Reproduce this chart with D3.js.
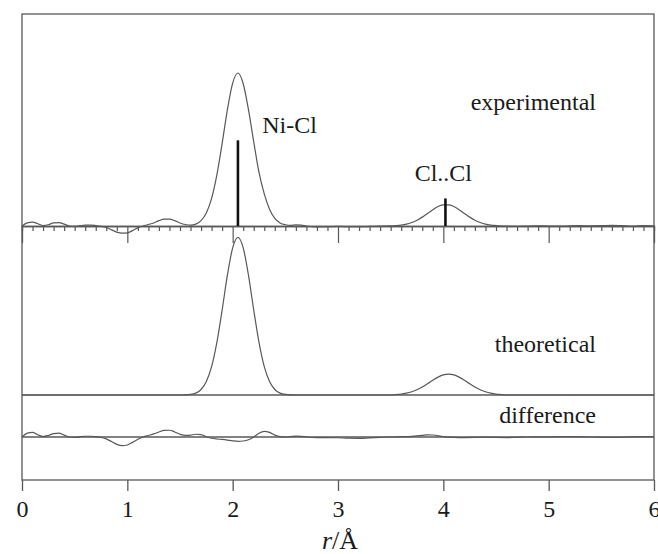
<!DOCTYPE html>
<html>
<head>
<meta charset="utf-8">
<script src="https://cdn.jsdelivr.net/npm/d3@7"></script>
<style>
  body { margin: 0; background: #fff; }
  svg { display: block; }
</style>
</head>
<body>
<svg id="rdf" width="658" height="554"></svg>
<script>
// experimental radial distribution [r (Å), G]
var experimental = [
  [0,0],[0.05,0.02],[0.1,0.025],[0.15,0.015],[0.2,0.003],[0.25,0.008],[0.3,0.02],[0.35,0.022],
  [0.4,0.012],[0.45,0],[0.5,-0.003],[0.55,0.002],[0.6,0.006],[0.65,0.006],[0.7,0.003],[0.75,-0.002],
  [0.8,-0.01],[0.85,-0.025],[0.9,-0.04],[0.95,-0.047],[1.0,-0.045],[1.05,-0.03],[1.1,-0.012],
  [1.15,0],[1.2,0.01],[1.25,0.02],[1.3,0.035],[1.35,0.045],[1.4,0.045],[1.45,0.035],[1.5,0.02],
  [1.55,0.01],[1.6,0.006],[1.65,0.012],[1.7,0.035],[1.75,0.085],[1.8,0.18],[1.85,0.334],[1.9,0.539],
  [1.95,0.76],[2.0,0.934],[2.05,1.0],[2.1,0.93],[2.15,0.76],[2.2,0.55],[2.25,0.35],[2.3,0.21],
  [2.35,0.11],[2.4,0.05],[2.45,0.02],[2.5,0.008],[2.55,0.004],[2.6,0.008],[2.65,0.006],[2.7,0],
  [2.8,-0.006],[2.9,-0.005],[3.0,-0.003],[3.1,-0.004],[3.2,-0.005],[3.3,-0.003],[3.4,-0.001],
  [3.5,0.001],[3.55,0.003],[3.6,0.006],[3.65,0.012],[3.7,0.023],[3.75,0.038],[3.8,0.058],[3.85,0.082],
  [3.9,0.107],[3.95,0.127],[4.0,0.138],[4.05,0.138],[4.1,0.127],[4.15,0.107],[4.2,0.082],[4.25,0.058],
  [4.3,0.038],[4.35,0.023],[4.4,0.012],[4.45,0.006],[4.5,0.003],[4.6,-0.001],[4.7,-0.002],[4.8,0],
  [4.9,0.001],[5.0,0],[5.1,-0.001],[5.2,0.001],[5.3,0.002],[5.4,0.001],[5.5,0.002],[5.6,0.004],
  [5.7,0.002],[5.8,0],[5.9,0.003],[6.0,0.001]
];

var theoretical = [
  [0,0],[0.5,0],[1.0,0],[1.5,0],[1.6,0.004],[1.65,0.012],[1.7,0.036],[1.75,0.088],[1.8,0.185],
  [1.85,0.344],[1.9,0.555],[1.95,0.783],[2.0,0.962],[2.05,1.03],[2.1,0.962],[2.15,0.783],[2.2,0.555],
  [2.25,0.344],[2.3,0.185],[2.35,0.088],[2.4,0.036],[2.45,0.012],[2.5,0.004],[2.6,0],[3.0,0],
  [3.5,0],[3.55,0.003],[3.6,0.006],[3.65,0.012],[3.7,0.021],[3.75,0.034],[3.8,0.052],[3.85,0.074],
  [3.9,0.097],[3.95,0.117],[4.0,0.132],[4.05,0.137],[4.1,0.132],[4.15,0.117],[4.2,0.097],[4.25,0.074],
  [4.3,0.052],[4.35,0.034],[4.4,0.021],[4.45,0.012],[4.5,0.006],[4.55,0.003],[4.6,0],[5.0,0],[6.0,0]
];

var difference = [
  [0,0],[0.05,0.025],[0.1,0.03],[0.15,0.015],[0.2,0.003],[0.25,0.01],[0.3,0.022],[0.35,0.025],
  [0.4,0.012],[0.45,0],[0.5,-0.003],[0.55,0.002],[0.6,0.005],[0.65,0.005],[0.7,0.002],[0.75,-0.003],
  [0.8,-0.012],[0.85,-0.03],[0.9,-0.048],[0.95,-0.057],[1.0,-0.052],[1.05,-0.035],[1.1,-0.015],
  [1.15,0],[1.2,0.01],[1.25,0.02],[1.3,0.033],[1.35,0.043],[1.4,0.044],[1.45,0.033],[1.5,0.018],
  [1.55,0.01],[1.6,0.012],[1.65,0.018],[1.7,0.015],[1.75,0.002],[1.8,-0.008],[1.85,-0.013],
  [1.9,-0.016],[1.95,-0.02],[2.0,-0.025],[2.05,-0.028],[2.1,-0.026],[2.15,-0.018],[2.2,0],
  [2.25,0.025],[2.3,0.037],[2.35,0.03],[2.4,0.012],[2.45,0.002],[2.5,0],[2.55,0.003],[2.6,0.006],
  [2.65,0.004],[2.7,0],[2.8,-0.004],[2.9,-0.004],[3.0,-0.005],[3.1,-0.008],[3.2,-0.009],[3.3,-0.006],
  [3.4,-0.003],[3.5,0],[3.6,0.002],[3.7,0.004],[3.8,0.01],[3.85,0.014],[3.9,0.013],[4.0,0.003],
  [4.1,-0.002],[4.2,-0.004],[4.3,-0.003],[4.4,-0.001],[4.5,-0.003],[4.6,-0.004],[4.7,-0.002],
  [4.8,0],[5.0,0.001],[5.2,0.002],[5.4,0],[5.6,-0.002],[5.8,0.001],[6.0,0.002]
];

// assigned distances (stick marks) in the experimental panel
var sticks = [
  { r: 2.05, h: 0.56, label: "Ni-Cl" },
  { r: 4.02, h: 0.18, label: "Cl..Cl" }
];

var xTicks = [0, 1, 2, 3, 4, 5, 6];
var panelNames = ["experimental", "theoretical", "difference"];

var svg = d3.select("#rdf");
var frameL = 22, frameR = 654, frameT = 14, frameB = 480;
var unit = 153; // px per unit of G

var x = d3.scaleLinear().domain([0, 6]).range([frameL, frameR]);
var yExp = d3.scaleLinear().domain([0, 1]).range([226, 226 - unit]);
var yTheo = d3.scaleLinear().domain([0, 1]).range([395, 395 - unit]);
var yDiff = d3.scaleLinear().domain([0, 1]).range([437, 437 - unit]);

var serif = "'Liberation Serif', 'Times New Roman', serif";
var grey = "#585858";

// frame
svg.append("rect")
    .attr("x", frameL).attr("y", frameT)
    .attr("width", frameR - frameL).attr("height", frameB - frameT)
    .style("fill", "none")
    .style("stroke", grey)
    .style("stroke-width", "1.3px");

// experimental baseline with fine tick marks
var minor = d3.range(1, 60).map(function(i) { return i / 10; }).filter(function(v) { return Math.abs(v - Math.round(v)) > 1e-6; });
var expAxisMinor = d3.axisBottom(x).tickValues(minor).tickSize(5).tickFormat("");
var expAxisMajor = d3.axisBottom(x).tickValues([1, 2, 3, 4, 5]).tickSize(17).tickFormat("");

var ga = svg.append("g").attr("transform", "translate(0," + yExp(0) + ")").call(expAxisMinor);
var gb = svg.append("g").attr("transform", "translate(0," + yExp(0) + ")").call(expAxisMajor);
[ga, gb].forEach(function(g) {
  g.select(".domain").style("stroke", grey).style("stroke-width", "1.3px");
  g.selectAll(".tick line").style("stroke", grey).style("stroke-width", "1.2px");
});

// baselines for theoretical and difference panels
[yTheo, yDiff].forEach(function(ys) {
  svg.append("line")
      .attr("x1", x(0)).attr("x2", x(6))
      .attr("y1", ys(0)).attr("y2", ys(0))
      .style("stroke", grey)
      .style("stroke-width", "1.3px");
});

function curve(ys) {
  return d3.line()
      .x(function(d) { return x(d[0]); })
      .y(function(d) { return ys(d[1]); })
      .curve(d3.curveMonotoneX);
}

[[experimental, yExp], [theoretical, yTheo], [difference, yDiff]].forEach(function(p) {
  svg.append("path")
      .datum(p[0])
      .attr("d", curve(p[1]))
      .style("fill", "none")
      .style("stroke", grey)
      .style("stroke-width", "1.2px");
});

// sticks
svg.selectAll(".stick")
    .data(sticks)
  .enter().append("line")
    .attr("class", "stick")
    .attr("x1", function(d) { return x(d.r); })
    .attr("x2", function(d) { return x(d.r); })
    .attr("y1", yExp(0))
    .attr("y2", function(d) { return yExp(d.h); })
    .style("stroke", "#111")
    .style("stroke-width", "2.6px");

// labels
function label(txt, xx, yy, anchor) {
  svg.append("text")
      .attr("x", xx).attr("y", yy)
      .attr("text-anchor", anchor)
      .style("font-family", serif)
      .style("font-size", "24px")
      .style("fill", "#1a1a1a")
      .text(txt);
}
label(sticks[0].label, x(2.28), 133, "start");
label(sticks[1].label, x(4.0), 181, "middle");
label(panelNames[0], 596, 110, "end");
label(panelNames[1], 596, 352, "end");
label(panelNames[2], 596, 423, "end");

// bottom axis
var gx = svg.append("g")
    .attr("transform", "translate(0," + frameB + ")")
    .call(d3.axisBottom(x).tickValues(xTicks).tickSize(11).tickPadding(9).tickFormat(d3.format("d")));
gx.select(".domain").remove();
gx.selectAll(".tick line").style("stroke", grey).style("stroke-width", "1.3px");
gx.selectAll(".tick text")
    .style("font-family", serif)
    .style("font-size", "24px")
    .style("fill", "#1a1a1a");

var title = svg.append("text")
    .attr("x", 340).attr("y", 549)
    .attr("text-anchor", "middle")
    .style("font-family", serif)
    .style("font-size", "26px")
    .style("fill", "#1a1a1a");
title.append("tspan").style("font-style", "italic").text("r");
title.append("tspan").text("/Å");
</script>
</body>
</html>
